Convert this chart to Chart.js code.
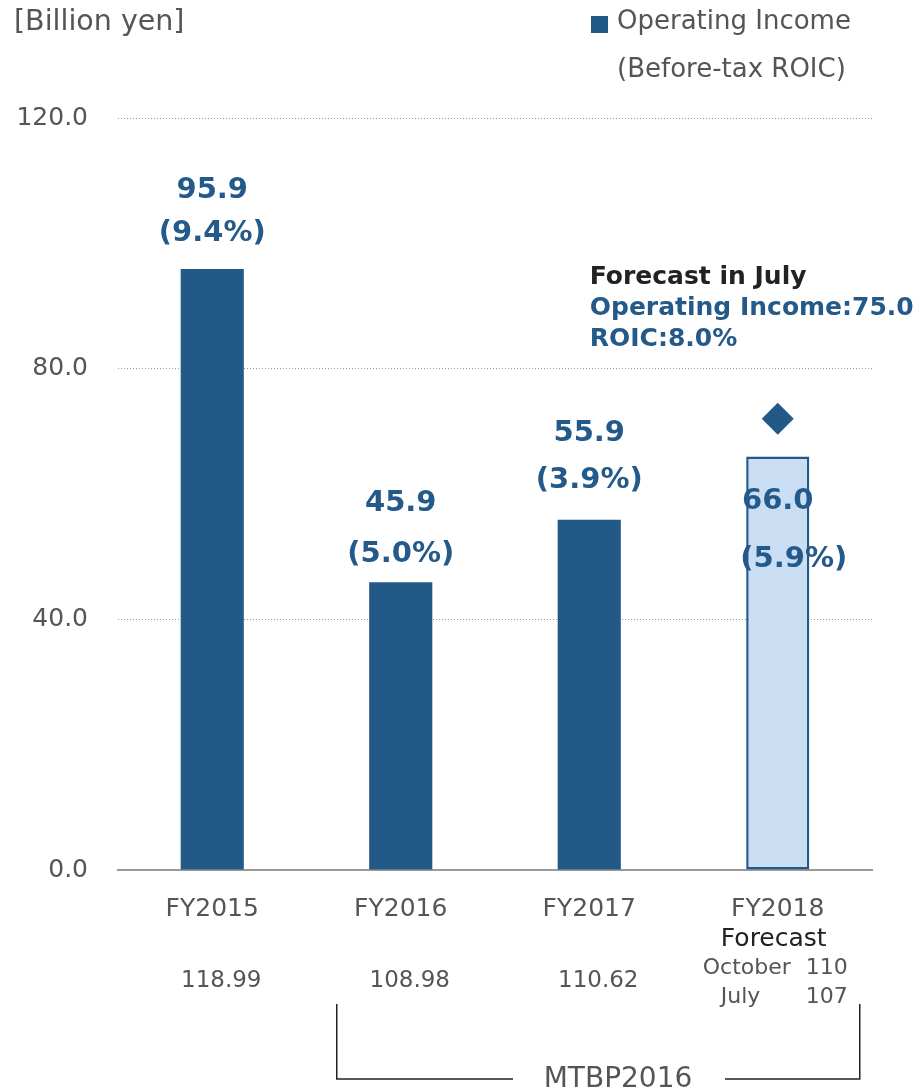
<!DOCTYPE html>
<html>
<head>
<meta charset="utf-8">
<script src="https://cdn.jsdelivr.net/npm/chart.js@4.4.1/dist/chart.umd.min.js"></script>
<style>
  html, body { margin: 0; padding: 0; background: #ffffff; }
  #wrap { width: 920px; height: 1091px; position: relative; }
</style>
</head>
<body>
<div id="wrap"><canvas id="c" width="920" height="1091"></canvas></div>
<script>
// ---- data ----
const categories = ['FY2015', 'FY2016', 'FY2017', 'FY2018'];
const operatingIncome = [95.9, 45.9, 55.9, 66.0];
const roicLabels = ['(9.4%)', '(5.0%)', '(3.9%)', '(5.9%)'];
const julyForecastPoint = [null, null, null, 72];
const exchangeRates = ['118.99', '108.98', '110.62', null];
const forecastRateRows = [['October', '110'], ['July', '107']];
const yTickMin = 0, yTickMax = 120, yTickStep = 40;
const annotationLines = ['Forecast in July', 'Operating Income:75.0', 'ROIC:8.0%'];
const legendLines = ['Operating Income', '(Before-tax ROIC)'];
const unitLabel = '[Billion yen]';
const bracketLabel = 'MTBP2016';

// ---- styles ----
const FONT = '"DejaVu Sans", Verdana, sans-serif';
const DARK = '#235987';
const LIGHT = '#C9DEF2';
const TEXT_BLUE = '#245A8A';
const GRAY_TEXT = '#555555';
const valueDy = [-79, -79, -86, 45];
const roicDy = [-36, -28, -39, 103];
const roicDx = [0, 0, 0, 16];

const labelPlugin = {
  id: 'customText',
  afterDatasetsDraw(chart) {
    const ctx = chart.ctx;
    const meta = chart.getDatasetMeta(0);
    const xs = chart.scales.x;
    ctx.save();
    // bar value labels
    ctx.fillStyle = TEXT_BLUE;
    ctx.textAlign = 'center';
    ctx.textBaseline = 'middle';
    meta.data.forEach((bar, i) => {
      ctx.font = 'bold 29px ' + FONT;
      ctx.fillText(operatingIncome[i].toFixed(1), bar.x, bar.y + valueDy[i]);
      ctx.fillText(roicLabels[i], bar.x + roicDx[i], bar.y + roicDy[i]);
    });
    // annotation near diamond
    const pm = chart.getDatasetMeta(1);
    const pt = pm.data[3];
    ctx.textAlign = 'left';
    ctx.font = 'bold 25px ' + FONT;
    ctx.fillStyle = '#222222';
    ctx.fillText(annotationLines[0], pt.x - 188, pt.y - 141);
    ctx.fillStyle = TEXT_BLUE;
    ctx.fillText(annotationLines[1], pt.x - 188, pt.y - 110);
    ctx.fillText(annotationLines[2], pt.x - 188, pt.y - 79);

    // unit label
    ctx.fillStyle = GRAY_TEXT;
    ctx.font = '28.5px ' + FONT;
    ctx.fillText(unitLabel, 14, 23);

    // legend
    ctx.fillStyle = DARK;
    ctx.fillRect(591, 16, 17, 17);
    ctx.fillStyle = GRAY_TEXT;
    ctx.font = '26px ' + FONT;
    ctx.fillText(legendLines[0], 617, 22);
    ctx.fillText(legendLines[1], 617, 70);

    // under-axis rows
    ctx.textAlign = 'center';
    ctx.font = '23px ' + FONT;
    exchangeRates.forEach((r, i) => {
      if (r) ctx.fillText(r, xs.getPixelForValue(i) + 9, 981);
    });
    const fx = xs.getPixelForValue(3);
    ctx.fillStyle = '#222222';
    ctx.font = '25px ' + FONT;
    ctx.fillText('Forecast', fx - 4, 939);
    ctx.fillStyle = GRAY_TEXT;
    ctx.font = '22px ' + FONT;
    ctx.textAlign = 'left';
    ctx.fillText(forecastRateRows[0][0], fx - 75, 968);
    ctx.fillText(forecastRateRows[1][0], fx - 57, 997);
    ctx.textAlign = 'right';
    ctx.fillText(forecastRateRows[0][1], fx + 70, 968);
    ctx.fillText(forecastRateRows[1][1], fx + 70, 997);

    // MTBP bracket
    const bl = xs.getPixelForValue(1) - 64;
    const br = xs.getPixelForValue(3) + 82;
    ctx.strokeStyle = '#222222';
    ctx.lineWidth = 1.5;
    ctx.beginPath();
    ctx.moveTo(bl, 1004); ctx.lineTo(bl, 1079); ctx.lineTo(513, 1079);
    ctx.moveTo(725, 1079); ctx.lineTo(br, 1079); ctx.lineTo(br, 1004);
    ctx.stroke();
    ctx.fillStyle = GRAY_TEXT;
    ctx.textAlign = 'center';
    ctx.font = '28px ' + FONT;
    ctx.fillText(bracketLabel, 618, 1080);
    ctx.restore();
  }
};

new Chart(document.getElementById('c'), {
  data: {
    labels: categories,
    datasets: [
      {
        type: 'bar',
        data: operatingIncome,
        backgroundColor: [DARK, DARK, DARK, LIGHT],
        borderColor: [DARK, DARK, DARK, DARK],
        borderWidth: [0, 0, 0, 2.5],
        borderSkipped: false,
        barPercentage: 0.335,
        categoryPercentage: 1.0,
        order: 2
      },
      {
        type: 'line',
        data: julyForecastPoint,
        showLine: false,
        pointStyle: 'rectRot',
        pointRadius: 16,
        pointBackgroundColor: DARK,
        pointBorderColor: DARK,
        pointBorderWidth: 0,
        order: 1
      }
    ]
  },
  options: {
    responsive: false,
    animation: false,
    devicePixelRatio: 1,
    layout: { padding: { top: 118, right: 48, left: 0, bottom: 0 } },
    plugins: { legend: { display: false }, tooltip: { enabled: false } },
    scales: {
      x: {
        grid: { display: false, drawTicks: false },
        border: { display: true, color: '#9a9a9a', width: 2 },
        ticks: {
          color: GRAY_TEXT,
          font: { family: FONT, size: 25 },
          padding: 24,
          maxRotation: 0
        },
        afterFit(scale) { scale.height = 221; }
      },
      y: {
        min: yTickMin,
        max: yTickMax,
        grid: {
          drawTicks: false,
          color: (c) => (c.tick && c.tick.value === 0 ? 'rgba(0,0,0,0)' : '#9a9a9a'),
          lineWidth: 1
        },
        border: { display: false, dash: [1, 2] },
        ticks: {
          stepSize: yTickStep,
          color: GRAY_TEXT,
          font: { family: FONT, size: 25 },
          padding: 30,
          callback: (v) => Number(v).toFixed(1)
        },
        afterFit(scale) { scale.width = 118; }
      }
    }
  },
  plugins: [labelPlugin]
});
</script>
</body>
</html>
